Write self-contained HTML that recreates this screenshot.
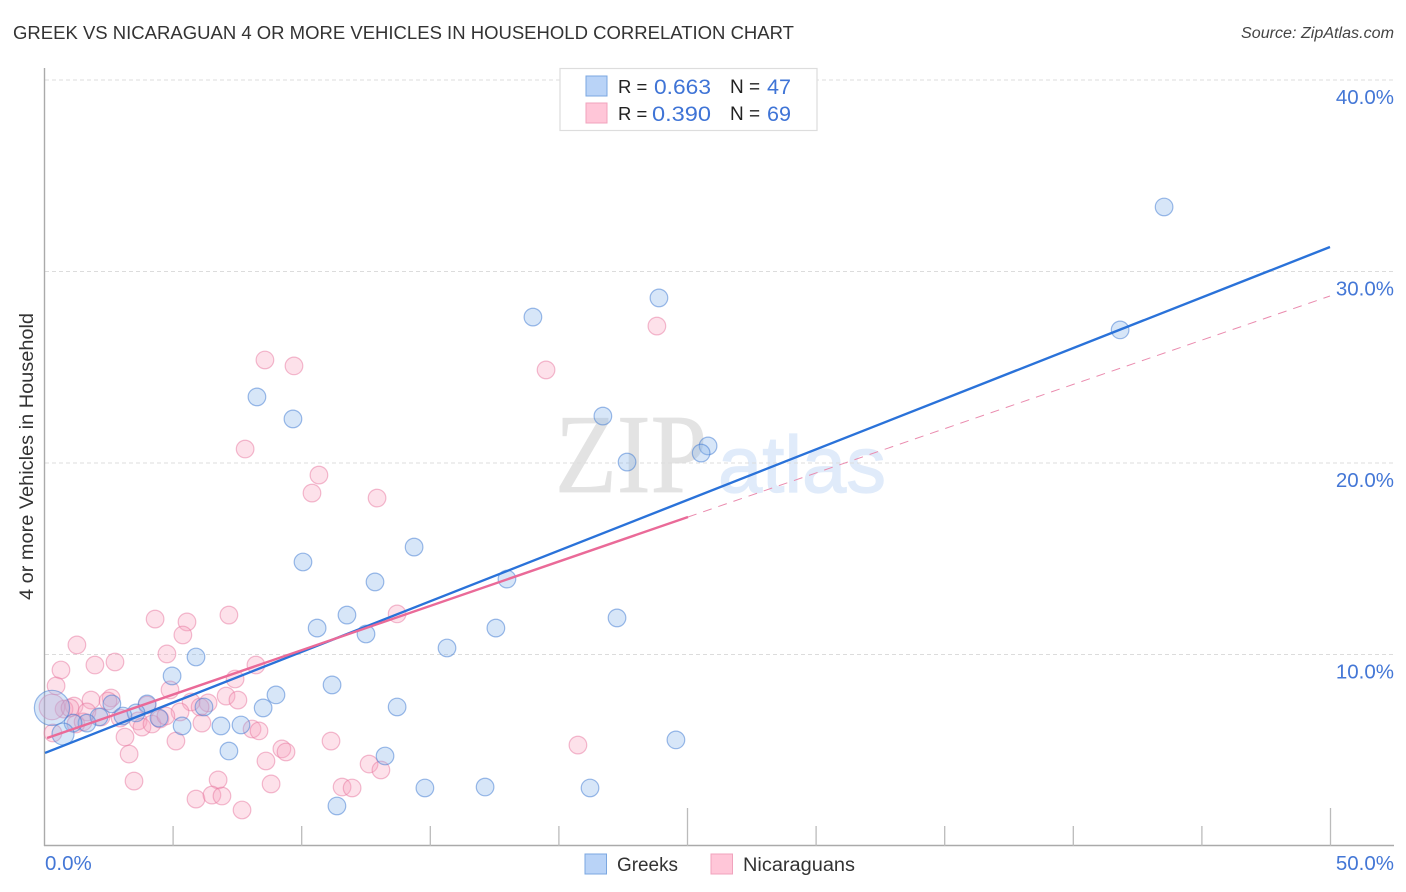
<!DOCTYPE html>
<html lang="en">
<head>
<meta charset="utf-8">
<title>Greek vs Nicaraguan 4 or More Vehicles in Household Correlation Chart</title>
<style>
html,body{margin:0;padding:0;background:#fff;width:1406px;height:892px;overflow:hidden}
svg{display:block;font-family:"Liberation Sans",sans-serif}
</style>
</head>
<body>
<svg id="chart" xmlns="http://www.w3.org/2000/svg" width="1406" height="892" viewBox="0 0 1406 892">
  <rect x="0" y="0" width="1406" height="892" fill="#fff"/>
  <text x="13" y="39" font-size="18.5" fill="#333" textLength="781" lengthAdjust="spacingAndGlyphs">GREEK VS NICARAGUAN 4 OR MORE VEHICLES IN HOUSEHOLD CORRELATION CHART</text>
  <text x="1394" y="38" font-size="15.5" font-style="italic" fill="#444" text-anchor="end" textLength="153" lengthAdjust="spacingAndGlyphs">Source: ZipAtlas.com</text>
  <g>
    <text x="555" y="492" font-family="'Liberation Serif',serif" font-size="112" fill="#e3e3e3" stroke="#e3e3e3" stroke-width="0.8" textLength="152" lengthAdjust="spacingAndGlyphs">ZIP</text>
    <text x="718" y="492" font-family="'Liberation Sans',sans-serif" font-size="80" fill="#e0ebfa" stroke="#e0ebfa" stroke-width="1.2" textLength="168" lengthAdjust="spacingAndGlyphs">atlas</text>
  </g>
  <g id="grid"></g>
  <g id="axes"></g>
  <g id="points"></g>
  <g id="trends"></g>
  <g id="tickLabels"></g>
  <text transform="translate(33,456.5) rotate(-90)" font-size="19" fill="#333" text-anchor="middle" textLength="287" lengthAdjust="spacingAndGlyphs">4 or more Vehicles in Household</text>

  <g>
    <rect x="560" y="68.5" width="257" height="62" fill="#fff" stroke="#ddd" stroke-width="1.2"/>
    <rect x="586" y="76" width="21" height="20" fill="#b9d3f7" stroke="#7ba7e0" stroke-width="1"/>
    <rect x="586" y="103" width="21" height="20" fill="#ffc6d8" stroke="#f0a3bd" stroke-width="1"/>
    <text x="618" y="93" font-size="18.5" fill="#222">R =</text>
    <text x="654" y="94" font-size="21" fill="#3f74d6" textLength="57" lengthAdjust="spacingAndGlyphs">0.663</text>
    <text x="730" y="93" font-size="19" fill="#222">N =</text>
    <text x="767" y="94" font-size="21" fill="#3f74d6" textLength="24" lengthAdjust="spacingAndGlyphs">47</text>
    <text x="618" y="120" font-size="18.5" fill="#222">R =</text>
    <text x="652" y="121" font-size="21" fill="#3f74d6" textLength="59" lengthAdjust="spacingAndGlyphs">0.390</text>
    <text x="730" y="120" font-size="19" fill="#222">N =</text>
    <text x="767" y="121" font-size="21" fill="#3f74d6" textLength="24" lengthAdjust="spacingAndGlyphs">69</text>
  </g>

  <g>
    <rect x="585" y="854" width="21.5" height="20" fill="#b9d3f7" stroke="#7ba7e0" stroke-width="1"/>
    <text x="617" y="871" font-size="19" fill="#333" textLength="61" lengthAdjust="spacingAndGlyphs">Greeks</text>
    <rect x="711" y="854" width="21.5" height="20" fill="#ffc6d8" stroke="#f0a3bd" stroke-width="1"/>
    <text x="743" y="871" font-size="19" fill="#333" textLength="112" lengthAdjust="spacingAndGlyphs">Nicaraguans</text>
  </g>
</svg>
<script>
const xTickValues = [0, 5, 10, 15, 20, 25, 30, 35, 40, 45, 50];
const xMajorTicks = [0, 25, 50];
const xEndLabels = ["0.0%", "50.0%"];
const yTickValues = [10, 20, 30, 40];
const yTickLabels = ["10.0%", "20.0%", "30.0%", "40.0%"];

const greeksX = [43.53, 41.82, 23.89, 18.99, 8.26, 9.66, 21.71, 25.80, 25.53, 22.65, 14.37, 10.05, 12.85, 17.98, 11.76, 22.26, 10.60, 17.55, 12.50, 15.65, 5.89, 4.96, 11.18, 9.00, 8.50, 13.71, 6.20, 3.99, 2.62, 3.56, 4.45, 3.05, 2.12, 1.65, 1.11, 5.35, 6.86, 7.64, 0.72, 7.17, 13.24, 24.55, 14.79, 17.13, 21.21, 11.37, 0.29];
const greeksY = [33.37, 26.95, 28.62, 27.62, 23.45, 22.30, 22.45, 20.89, 20.52, 20.05, 15.61, 14.83, 13.79, 13.94, 12.06, 11.91, 11.38, 11.38, 11.07, 10.34, 9.87, 8.88, 8.41, 7.89, 7.21, 7.26, 7.26, 7.42, 7.42, 6.95, 6.68, 6.79, 6.74, 6.42, 6.42, 6.27, 6.27, 6.32, 5.85, 4.96, 4.70, 5.54, 3.03, 3.08, 3.03, 2.09, 7.21];
const greeksWeight = [1,1,1,1,1,1,1,1,1,1,1,1,1,1,1,1,1,1,1,1,1,1,1,1,1,1,1,1,1,1,1,1,1,1,1,1,1,1,1.25,1,1,1,1,1,1,1,2];

const nicaraguansX = [23.81, 8.57, 9.70, 19.50, 7.80, 10.67, 10.40, 12.93, 13.71, 7.17, 4.30, 5.54, 5.38, 1.26, 4.76, 2.74, 1.96, 0.64, 8.22, 7.41, 0.45, 4.88, 7.06, 7.52, 2.59, 1.81, 2.47, 1.15, 0.76, 5.70, 6.36, 6.05, 1.65, 3.99, 5.27, 0.29, 0.99, 2.20, 2.94, 3.64, 3.79, 4.18, 4.49, 4.72, 6.12, 1.22, 1.50, 0.33, 8.07, 8.34, 3.13, 5.11, 3.29, 11.14, 9.23, 9.39, 8.61, 20.74, 12.62, 13.08, 3.48, 6.75, 8.81, 11.57, 11.96, 5.89, 6.51, 6.90, 7.68];
const nicaraguansY = [27.15, 25.38, 25.07, 24.86, 20.73, 19.37, 18.43, 18.17, 12.12, 12.06, 11.85, 11.70, 11.02, 10.50, 10.03, 9.61, 9.45, 9.19, 9.45, 8.72, 8.36, 8.15, 7.83, 7.62, 7.73, 7.62, 7.57, 7.31, 7.15, 7.52, 7.47, 7.26, 7.00, 7.36, 7.00, 7.26, 7.21, 6.74, 6.68, 6.53, 6.21, 6.37, 6.63, 6.79, 6.42, 6.37, 6.48, 5.90, 6.11, 6.01, 5.69, 5.48, 4.80, 5.48, 5.07, 4.91, 4.44, 5.27, 4.28, 3.97, 3.39, 3.45, 3.24, 3.08, 3.03, 2.45, 2.66, 2.61, 1.88];
const nicaraguansWeight = [1,1,1,1,1,1,1,1,1,1,1,1,1,1,1,1,1,1,1,1,1,1,1,1,1,1,1,1,1,1,1,1,1,1,1,1.45,1,1,1,1,1,1,1,1,1,1,1,1,1,1,1,1,1,1,1,1,1,1,1,1,1,1,1,1,1,1,1,1,1];

const greeksTrendX = [0.02, 49.98];
const greeksTrendY = [4.86, 31.28];
const nicaraguansSolidX = [0.1, 25.02];
const nicaraguansSolidY = [5.64, 17.18];
const nicaraguansDashedX = [25.02, 49.98];
const nicaraguansDashedY = [17.18, 28.72];

const NS = 'http://www.w3.org/2000/svg';
function sx(v) { return 44.5 + v * 25.72; }
function sy(v) { return 846 - v * 19.15; }
function mk(tag, parent, attrs) {
  const el = document.createElementNS(NS, tag);
  for (const k in attrs) el.setAttribute(k, attrs[k]);
  parent.appendChild(el);
  return el;
}

const gridG = document.getElementById('grid');
yTickValues.forEach(function (v) {
  const line = mk('line', gridG, { x1: 45, x2: 1394, y1: sy(v), y2: sy(v), stroke: '#dcdcdc', 'stroke-width': 1, 'stroke-dasharray': '4 3' });
  
  
});

const axesG = document.getElementById('axes');
const yAxisLine = mk('line', axesG, { x1: 44.5, x2: 44.5, y1: 68, y2: 846, stroke: '#aaa', 'stroke-width': 1.4 });


const xAxisLine = mk('line', axesG, { x1: 44, x2: 1394, y1: 845.5, y2: 845.5, stroke: '#aaa', 'stroke-width': 1.4 });


xTickValues.forEach(function (v) {
  if (v === 0) return;
  const major = xMajorTicks.indexOf(v) >= 0;
  const tick = mk('line', axesG, { x1: sx(v), x2: sx(v), y1: major ? 808 : 826, y2: 846, stroke: '#bbb', 'stroke-width': 1.3 });
  
  
});

const labelsG = document.getElementById('tickLabels');
yTickValues.forEach(function (v, i) {
  const t = mk('text', labelsG, { x: 1394, y: sy(v) + 24, 'font-size': 20.5, fill: '#4477d6', 'text-anchor': 'end' });
  
  
  t.textContent = yTickLabels[i];
});
const xStart = mk('text', labelsG, { x: 45, y: 870, 'font-size': 20.5, fill: '#4477d6' });


xStart.textContent = xEndLabels[0];
const xEnd = mk('text', labelsG, { x: 1394, y: 870, 'font-size': 20.5, fill: '#4477d6', 'text-anchor': 'end' });


xEnd.textContent = xEndLabels[1];

const pointsG = document.getElementById('points');
nicaraguansX.forEach(function (x, i) {
  const c = mk('circle', pointsG, { cx: sx(x), cy: sy(nicaraguansY[i]), r: 8.8 * nicaraguansWeight[i], fill: 'rgba(250,165,190,0.33)', stroke: 'rgba(232,120,160,0.5)', 'stroke-width': 1.2 });
  
  
});
greeksX.forEach(function (x, i) {
  const c = mk('circle', pointsG, { cx: sx(x), cy: sy(greeksY[i]), r: 8.8 * greeksWeight[i], fill: 'rgba(135,180,235,0.33)', stroke: 'rgba(60,120,210,0.5)', 'stroke-width': 1.2 });
  
  
});

const trendsG = document.getElementById('trends');
const greeksTrend = mk('line', trendsG, { x1: sx(greeksTrendX[0]), y1: sy(greeksTrendY[0]), x2: sx(greeksTrendX[1]), y2: sy(greeksTrendY[1]), stroke: '#2a72d9', 'stroke-width': 2.4 });


const nicSolid = mk('line', trendsG, { x1: sx(nicaraguansSolidX[0]), y1: sy(nicaraguansSolidY[0]), x2: sx(nicaraguansSolidX[1]), y2: sy(nicaraguansSolidY[1]), stroke: '#ea6a98', 'stroke-width': 2.4 });


const nicDashed = mk('line', trendsG, { x1: sx(nicaraguansDashedX[0]), y1: sy(nicaraguansDashedY[0]), x2: sx(nicaraguansDashedX[1]), y2: sy(nicaraguansDashedY[1]), stroke: '#ea8bae', 'stroke-width': 1, 'stroke-dasharray': '9 7' });


</script>
</body>
</html>
